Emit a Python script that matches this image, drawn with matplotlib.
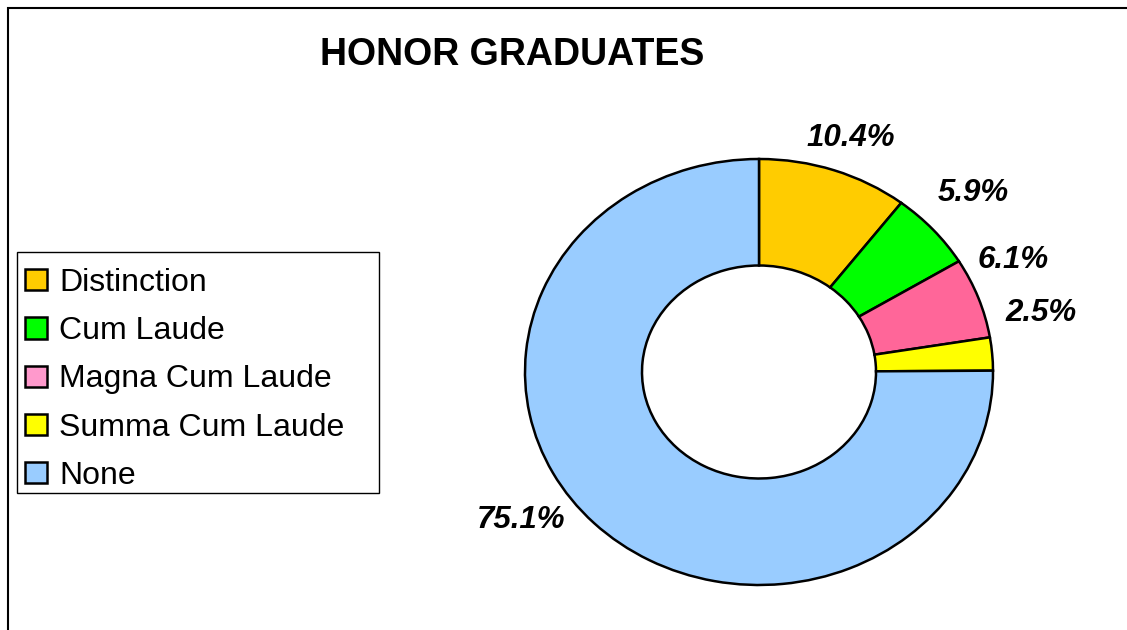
import matplotlib
matplotlib.use("Agg")
import matplotlib.pyplot as plt
from matplotlib.patches import Patch, Rectangle

categories = ["Distinction", "Cum Laude", "Magna Cum Laude", "Summa Cum Laude", "None"]
values = [10.4, 5.9, 6.1, 2.5, 75.1]
slice_colors = ["#FFCC00", "#00FF00", "#FF6699", "#FFFF00", "#99CCFF"]
legend_colors = ["#FFCC00", "#00FF00", "#FF99CC", "#FFFF00", "#99CCFF"]
label_texts = ["10.4%", "5.9%", "6.1%", "2.5%", "75.1%"]
title = "HONOR GRADUATES"

plt.rcParams["font.family"] = ["Liberation Sans", "DejaVu Sans"]

W, H = 1127, 630
fig = plt.figure(figsize=(W / 100, H / 100), dpi=100)

# frame around chart area
fig.patches.append(Rectangle((8 / W, -0.1), 1.2, (H - 8) / H + 0.1, transform=fig.transFigure,
                             fill=False, edgecolor="black", linewidth=1.5))

ax = fig.add_axes([525 / W, (H - 585) / H, 468 / W, 426 / H])
wedges, _ = ax.pie(values, colors=slice_colors, startangle=90, counterclock=False,
                   radius=1.0, wedgeprops=dict(width=0.5, edgecolor="black", linewidth=1.8))
ax.set_aspect("auto")
ax.set_xlim(-1.0, 1.0)
ax.set_ylim(-1.0, 1.0)
ax.axis("off")

# label placement (axes fraction)
label_pos = [(0.697, 1.05), (0.957, 0.92), (1.043, 0.763), (1.103, 0.639), (-0.008, 0.152)]
for txt, (lx, ly) in zip(label_texts, label_pos):
    ax.text(lx, ly, txt, transform=ax.transAxes, ha="center", va="center",
            fontsize=22.5, fontweight="bold", fontstyle="italic", clip_on=False)

fig.text(512 / W, 1 - 55 / H, title, ha="center", va="center", fontsize=27, fontweight="bold")

# legend box
fig.patches.append(Rectangle((17 / W, 1 - 493 / H), (379 - 17) / W, (493 - 252) / H,
                             transform=fig.transFigure, fill=False, edgecolor="black",
                             linewidth=1.0))
handles = [Patch(facecolor=c, edgecolor="black", linewidth=1.8) for c in legend_colors]
leg = fig.legend(handles, categories, loc="upper left", bbox_to_anchor=(17 / W, 1 - 260 / H),
                 fontsize=23, frameon=False,
                 handlelength=0.69, handleheight=0.65, handletextpad=0.38,
                 labelspacing=0.57, borderpad=0.25, borderaxespad=0)

fig.savefig("out.png", dpi=100)
